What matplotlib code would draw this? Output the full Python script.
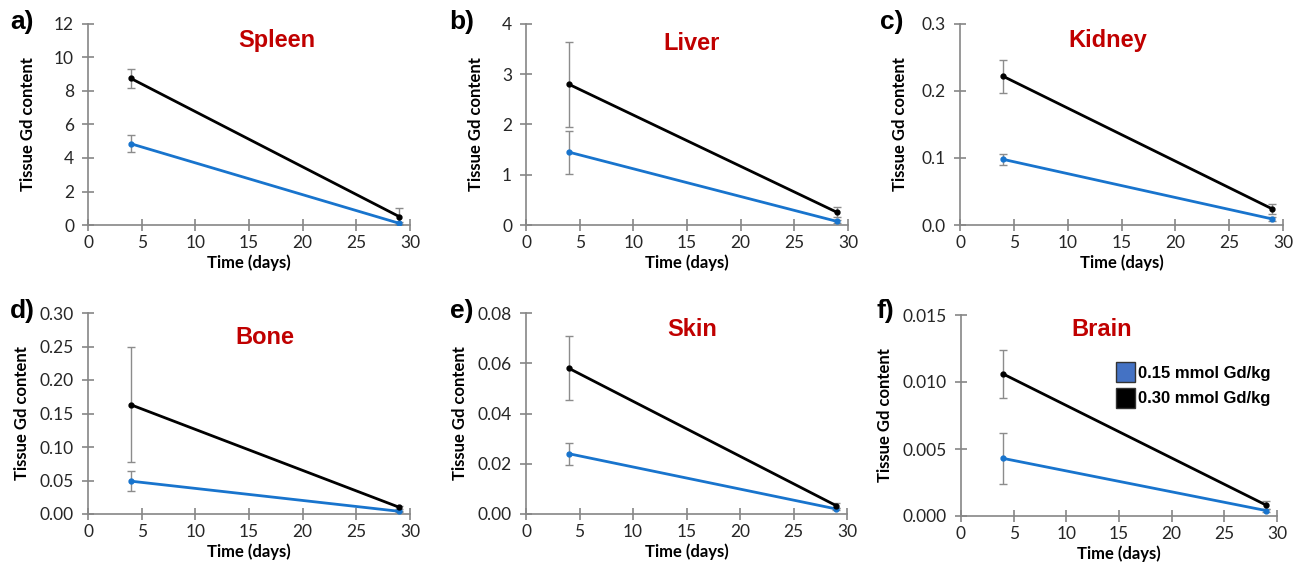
import matplotlib.pyplot as plt
from matplotlib.patches import Patch

W, H = 1307, 565
plt.rcParams['font.family'] = ['Lato', 'DejaVu Sans']

days = [4, 29]

organs = ["Spleen", "Liver", "Kidney", "Bone", "Skin", "Brain"]
letters = ["a)", "b)", "c)", "d)", "e)", "f)"]

# 0.15 mmol Gd/kg
low_mean = [[4.85, 0.10], [1.45, 0.07], [0.098, 0.009],
            [0.049, 0.004], [0.024, 0.002], [0.0043, 0.0004]]
low_err = [[0.50, 0.05], [0.43, 0.03], [0.008, 0.003],
           [0.015, 0.001], [0.0043, 0.0005], [0.0019, 0.0001]]
# 0.30 mmol Gd/kg
high_mean = [[8.75, 0.50], [2.80, 0.25], [0.222, 0.024],
             [0.163, 0.010], [0.058, 0.0033], [0.0106, 0.0008]]
high_err = [[0.55, 0.50], [0.85, 0.10], [0.025, 0.008],
            [0.086, 0.002], [0.0127, 0.001], [0.0018, 0.0003]]

ymax = [12, 4, 0.3, 0.30, 0.08, 0.015]
ystep = [2, 1, 0.1, 0.05, 0.02, 0.005]
yfmt = ["{:.0f}", "{:.0f}", "{:.1f}", "{:.2f}", "{:.2f}", "{:.3f}"]
ylabpad = [13, 13, 10, 7, 7, 7]

# axes boxes in pixels: left, right(x=30), top, bottom
boxes = [(88, 410, 24, 225), (526, 848, 24, 225), (960, 1283, 24, 225),
         (88, 410, 313, 514), (526, 847, 313, 514), (961, 1277, 315, 516)]
title_xy = [(277, 41), (692, 43), (1108, 40), (265, 337), (692, 330), (1102, 329)]
letter_xy = [(22, 22), (462, 22), (892, 22), (22, 311), (462, 311), (885, 311)]

BLUE = "#1874CD"
GRID = "#868686"

fig = plt.figure(figsize=(W / 100, H / 100), dpi=100)

for i in range(6):
    l, r, t, b = boxes[i]
    ax = fig.add_axes([l / W, 1 - b / H, (r - l) / W, (b - t) / H])
    ax.errorbar(days, low_mean[i], yerr=low_err[i], fmt='none', ecolor="#8c8c8c",
                elinewidth=1, capsize=3, capthick=1, zorder=1)
    ax.errorbar(days, high_mean[i], yerr=high_err[i], fmt='none', ecolor="#8c8c8c",
                elinewidth=1, capsize=3, capthick=1, zorder=1)
    ax.plot(days, low_mean[i], color=BLUE, lw=2, marker='o', ms=3.5, zorder=3)
    ax.plot(days, high_mean[i], color="black", lw=2, marker='o', ms=3.5, zorder=3)

    ax.set_xlim(0, 30)
    ax.set_ylim(0, ymax[i])
    ax.set_xticks(range(0, 31, 5))
    n = int(round(ymax[i] / ystep[i]))
    yt = [k * ystep[i] for k in range(n + 1)]
    ax.set_yticks(yt)
    ax.set_yticklabels([yfmt[i].format(v) for v in yt])
    for s in ["top", "right"]:
        ax.spines[s].set_visible(False)
    for s in ["left", "bottom"]:
        ax.spines[s].set_color(GRID)
        ax.spines[s].set_linewidth(1.2)
    ax.tick_params(direction='inout', length=8, width=1.2, color=GRID,
                   labelsize=12.5, labelcolor="#262626")
    ax.tick_params(axis='y', pad=6)
    ax.tick_params(axis='x', pad=3)
    ax.set_xlabel("Time (days)", fontsize=12, fontweight='bold', labelpad=3)
    ax.set_ylabel("Tissue Gd content", fontsize=12, fontweight='bold',
                  labelpad=ylabpad[i])
    ax.patch.set_alpha(0)

    tx, ty = title_xy[i]
    fig.text(tx / W, 1 - ty / H, organs[i], color="#C00000", fontsize=17,
             fontweight='bold', family='Liberation Sans', ha='center', va='center')
    lx, ly = letter_xy[i]
    fig.text(lx / W, 1 - ly / H, letters[i], color="black", fontsize=19,
             fontweight='bold', family='Liberation Sans', ha='center', va='center')

    if i == 5:
        handles = [Patch(facecolor="#4472C4", edgecolor="#333333", label="0.15 mmol Gd/kg"),
                   Patch(facecolor="black", edgecolor="#333333", label="0.30 mmol Gd/kg")]
        ax.legend(handles=handles, loc='upper left', bbox_to_anchor=(0.49, 0.765),
                  frameon=False, handlelength=1.15, handleheight=1.45, handletextpad=0.2,
                  labelspacing=0.35, borderaxespad=0, borderpad=0,
                  prop={'family': 'Liberation Sans', 'weight': 'bold', 'size': 12})

fig.savefig("out.png", dpi=100)
